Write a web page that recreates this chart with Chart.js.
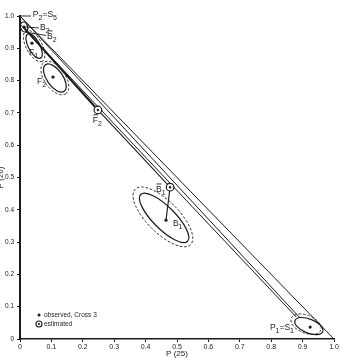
<!DOCTYPE html>
<html><head><meta charset="utf-8">
<script src="https://cdn.jsdelivr.net/npm/chart.js@4/dist/chart.umd.min.js"></script>
<style>html,body{margin:0;padding:0;background:#fff;}#wrap{width:342px;height:360px;position:relative;}</style>
</head><body><div id="wrap"><canvas id="c" width="342" height="360"></canvas></div>
<script>
// ---- tick labels ----
const tickValues = [0, 0.1, 0.2, 0.3, 0.4, 0.5, 0.6, 0.7, 0.8, 0.9, 1.0];
const tickLabels = ['0', '0.1', '0.2', '0.3', '0.4', '0.5', '0.6', '0.7', '0.8', '0.9', '1.0'];

// ---- observed points (P(25), P(26)) ----
const observedNames = ['B2', 'F1', 'F2', 'B1', 'P1=S1'];
const observedP25 = [0.013, 0.038, 0.105, 0.465, 0.924];
const observedP26 = [0.966, 0.916, 0.811, 0.368, 0.037];

// ---- estimated points ----
const estimatedNames = ['F2 (est.)', 'B1 (est.)'];
const estimatedP25 = [0.248, 0.478];
const estimatedP26 = [0.709, 0.470];

// ---- lines ----
const boundaryP25 = [0, 1];
const boundaryP26 = [1, 0];
const parentLineAP25 = [0, 0.892];
const parentLineAP26 = [1, 0.065];
const parentLineBP25 = [0, 0.880];
const parentLineBP26 = [0.975, 0.068];
const f2PathP25 = [0.013, 0.248];
const f2PathP26 = [0.963, 0.709];
const b1PathP25 = [0.248, 0.478, 0.465];
const b1PathP26 = [0.709, 0.470, 0.368];

// ---- confidence ellipses: centre P25, centre P26, semi-major, semi-minor (data units), tilt (deg) ----
const solidEllipseP25 = [0.013, 0.045, 0.111, 0.459, 0.920];
const solidEllipseP26 = [0.966, 0.907, 0.808, 0.375, 0.040];
const solidEllipseMajor = [0.016, 0.043, 0.051, 0.104, 0.047];
const solidEllipseMinor = [0.011, 0.018, 0.025, 0.035, 0.022];
const solidEllipseTilt = [70, 62, 55, 45, 22];
const dashedEllipseP25 = [0.045, 0.111, 0.455, 0.911];
const dashedEllipseP26 = [0.907, 0.808, 0.378, 0.046];
const dashedEllipseMajor = [0.054, 0.060, 0.123, 0.050];
const dashedEllipseMinor = [0.025, 0.033, 0.050, 0.028];
const dashedEllipseTilt = [62, 55, 45, 22];

// ---- annotation labels ('_' = subscript, '~' = overbar) ----
const labelTexts = ['P_2=S_5', 'B_2', '~B_2', 'F_1', 'F_2', '~F_2', '~B_1', 'B_1', 'P_1=S_1'];
const labelP25 = [0.041, 0.064, 0.086, 0.029, 0.054, 0.232, 0.433, 0.487, 0.796];
const labelP26 = [1.003, 0.963, 0.935, 0.885, 0.796, 0.675, 0.461, 0.356, 0.034];
const leaderFromP25 = [0.035, 0.060, 0.083];
const leaderFromP26 = [1.000, 0.963, 0.940];
const leaderToP25 = [0.003, 0.019, 0.016];
const leaderToP26 = [1.000, 0.966, 0.950];

const pts = (xs, ys) => xs.map((v, i) => ({x: v, y: ys[i]}));
const INK = '#1a1a1a';
const FONT = '"Liberation Sans", Arial, sans-serif';

function lineDS(xs, ys, w) {
  return {type: 'line', data: pts(xs, ys), borderColor: INK, borderWidth: w, pointRadius: 0,
    fill: false, tension: 0, order: 5, clip: false};
}

function drawRich(ctx, str, x, y, size) {
  let cx = x;
  let i = 0;
  while (i < str.length) {
    let over = false, sub = false;
    let ch = str[i];
    if (ch === '~') { over = true; i++; ch = str[i]; }
    if (ch === '_') { sub = true; i++; ch = str[i]; i++; }
    else {
      let run = ch; i++;
      if (!over) {
        while (i < str.length && str[i] !== '_' && str[i] !== '~') { run += str[i]; i++; }
      }
      ch = run;
    }
    const fs = sub ? size * 0.82 : size;
    ctx.font = fs + 'px ' + FONT;
    const w = ctx.measureText(ch).width;
    ctx.fillText(ch, cx, sub ? y + size * 0.32 : y);
    if (over) {
      ctx.beginPath();
      ctx.lineWidth = 0.9;
      ctx.moveTo(cx + 0.5, y - size * 0.72);
      ctx.lineTo(cx + w - 0.3, y - size * 0.72);
      ctx.stroke();
    }
    cx += w;
  }
}

const overlay = {
  id: 'overlay',
  beforeDatasetsDraw(chart) {
    const ctx = chart.ctx, xs = chart.scales.x, ys = chart.scales.y;
    const ux = xs.getPixelForValue(1) - xs.getPixelForValue(0);
    const uy = ys.getPixelForValue(0) - ys.getPixelForValue(1);
    const u = (ux + uy) / 2;
    ctx.save();
    ctx.strokeStyle = INK;
    const draw = (P25, P26, A, B, T, dashed) => {
      for (let i = 0; i < P25.length; i++) {
        ctx.beginPath();
        ctx.setLineDash(dashed ? [2.6, 1.8] : []);
        ctx.lineWidth = dashed ? 0.9 : 1.2;
        ctx.ellipse(xs.getPixelForValue(P25[i]), ys.getPixelForValue(P26[i]),
          A[i] * u, B[i] * u, T[i] * Math.PI / 180, 0, Math.PI * 2);
        ctx.stroke();
      }
    };
    draw(dashedEllipseP25, dashedEllipseP26, dashedEllipseMajor, dashedEllipseMinor, dashedEllipseTilt, true);
    draw(solidEllipseP25, solidEllipseP26, solidEllipseMajor, solidEllipseMinor, solidEllipseTilt, false);
    ctx.restore();
  },
  afterDatasetsDraw(chart) {
    const ctx = chart.ctx, xs = chart.scales.x, ys = chart.scales.y;
    ctx.save();
    ctx.fillStyle = INK; ctx.strokeStyle = INK;
    ctx.lineWidth = 0.9;
    for (let i = 0; i < leaderFromP25.length; i++) {
      ctx.beginPath();
      ctx.moveTo(xs.getPixelForValue(leaderFromP25[i]), ys.getPixelForValue(leaderFromP26[i]));
      ctx.lineTo(xs.getPixelForValue(leaderToP25[i]), ys.getPixelForValue(leaderToP26[i]));
      ctx.stroke();
    }
    ctx.textBaseline = 'middle'; ctx.textAlign = 'left';
    for (let i = 0; i < labelTexts.length; i++) {
      drawRich(ctx, labelTexts[i], xs.getPixelForValue(labelP25[i]), ys.getPixelForValue(labelP26[i]), 8.5);
    }
    const a = chart.chartArea;
    const lx = a.left + 19, ly1 = a.bottom - 24, ly2 = a.bottom - 15;
    ctx.beginPath(); ctx.arc(lx, ly1, 1.5, 0, Math.PI * 2); ctx.fill();
    ctx.beginPath(); ctx.lineWidth = 1.1; ctx.arc(lx, ly2, 3, 0, Math.PI * 2); ctx.stroke();
    ctx.beginPath(); ctx.arc(lx, ly2, 1.1, 0, Math.PI * 2); ctx.fill();
    ctx.font = '6.5px ' + FONT;
    ctx.fillText('observed, Cross 3', lx + 5, ly1);
    ctx.fillText('estimated', lx + 5, ly2);
    ctx.restore();
  }
};

new Chart(document.getElementById('c'), {
  type: 'scatter',
  data: {
    datasets: [
      {data: pts(estimatedP25, estimatedP26), pointRadius: 1.2, pointBackgroundColor: INK, pointBorderWidth: 0, order: 0},
      {data: pts(estimatedP25, estimatedP26), pointRadius: 3.8, pointBackgroundColor: '#fff', pointBorderColor: INK, pointBorderWidth: 1.2, order: 1},
      {data: pts(observedP25, observedP26), pointRadius: 1.6, pointBackgroundColor: INK, pointBorderWidth: 0, order: 2},
      lineDS(boundaryP25, boundaryP26, 1),
      lineDS(parentLineAP25, parentLineAP26, 1),
      lineDS(parentLineBP25, parentLineBP26, 1),
      lineDS(f2PathP25, f2PathP26, 2),
      lineDS(b1PathP25, b1PathP26, 1.1)
    ]
  },
  options: {
    responsive: false, animation: false, events: [],
    layout: {padding: {left: 0, right: 8, top: 16, bottom: 0}},
    plugins: {legend: {display: false}, tooltip: {enabled: false}},
    scales: {
      x: {
        type: 'linear', min: 0, max: 1,
        afterBuildTicks: s => { s.ticks = tickValues.map(v => ({value: v})); },
        ticks: {autoSkip: false, maxRotation: 0, padding: 1, color: INK,
          font: {family: FONT, size: 7}, callback: (v) => tickLabels[tickValues.indexOf(v)] ?? ''},
        grid: {drawOnChartArea: false, drawTicks: true, tickLength: 3, color: INK, lineWidth: 1},
        border: {display: true, color: INK, width: 1.5},
        title: {display: true, text: 'P (25)', color: INK, font: {family: FONT, size: 8}, padding: {top: 0, bottom: 1}},
        afterFit: s => { s.height = 21; }
      },
      y: {
        type: 'linear', min: 0, max: 1,
        afterBuildTicks: s => { s.ticks = tickValues.map(v => ({value: v})); },
        ticks: {autoSkip: false, padding: 3, color: INK,
          font: {family: FONT, size: 6.5}, callback: (v) => tickLabels[tickValues.indexOf(v)] ?? ''},
        grid: {drawOnChartArea: false, drawTicks: true, tickLength: 3, color: INK, lineWidth: 1},
        border: {display: true, color: INK, width: 2},
        title: {display: true, text: 'P (26)', color: INK, font: {family: FONT, size: 8}, padding: {top: -4, bottom: 0}},
        afterFit: s => { s.width = 20; }
      }
    }
  },
  plugins: [overlay]
});
</script>
</body></html>
